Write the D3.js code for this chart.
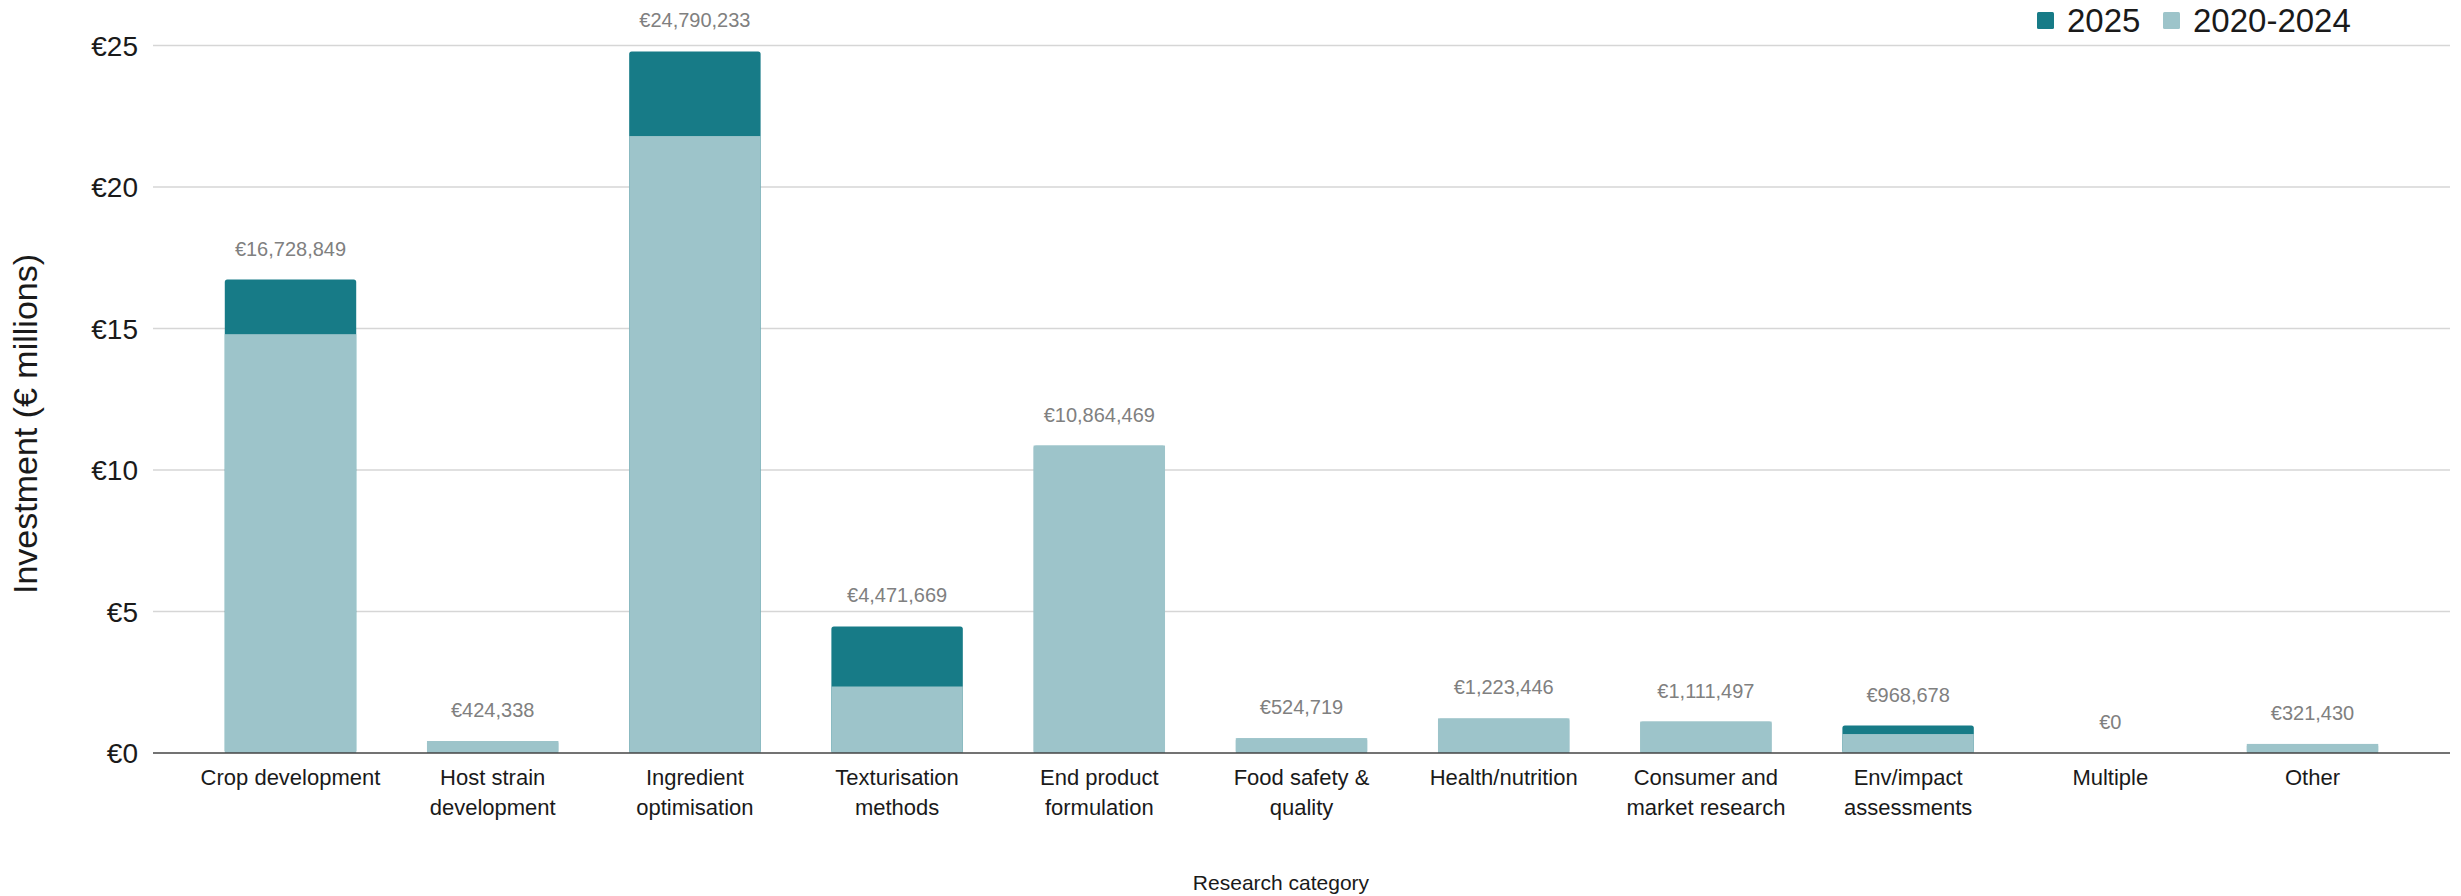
<!DOCTYPE html>
<html><head><meta charset="utf-8">
<script src="https://cdn.jsdelivr.net/npm/d3@7"></script>
<style>body{margin:0;background:#fff}svg{display:block}text{font-family:"Liberation Sans",Arial,sans-serif}</style>
</head><body><svg id="c" width="2461" height="896"></svg>
<script>
const categories = ["Crop development","Host strain development","Ingredient optimisation","Texturisation methods","End product formulation","Food safety & quality","Health/nutrition","Consumer and market research","Env/impact assessments","Multiple","Other"];
const categoryLines = [["Crop development"],["Host strain","development"],["Ingredient","optimisation"],["Texturisation","methods"],["End product","formulation"],["Food safety &","quality"],["Health/nutrition"],["Consumer and","market research"],["Env/impact","assessments"],["Multiple"],["Other"]];
const totals = [16728849,424338,24790233,4471669,10864469,524719,1223446,1111497,968678,0,321430];
const base20202024 = [14.80,0.424,21.80,2.35,10.864,0.525,1.223,1.111,0.67,0,0.321];
const series = ["2025","2020-2024"];
const yTicks = [0,5,10,15,20,25];
const colors = {"2025":"#177b87","2020-2024":"#9dc4ca"};

const svg = d3.select("#c");
const L=153,R=2450,T=45.5,B=753;
const x = d3.scaleBand().domain(categories).range([L,R]).paddingInner(0.35).paddingOuter(0.355);
const y = d3.scaleLinear().domain([0,25]).range([B,T]);

// gridlines
svg.append("g").selectAll("line").data(yTicks.filter(d=>d>0)).join("line")
  .attr("x1",L).attr("x2",R).attr("y1",d=>y(d)).attr("y2",d=>y(d))
  .attr("stroke","#d6d6d6").attr("stroke-width",1.5);

// y ticks labels
svg.append("g").selectAll("text").data(yTicks).join("text")
  .attr("x",138).attr("y",d=>y(d)).attr("dy","0.36em").attr("text-anchor","end")
  .attr("font-size",28).attr("fill","#1a1a1a").text(d=>"€"+d);

// bars
const data = categories.map((c,i)=>({c, base:base20202024[i], total:totals[i]/1e6, label:totals[i]}));
const g = svg.append("g");
data.forEach(d=>{
  if(d.total>0){
    g.append("rect").attr("x",x(d.c)).attr("width",x.bandwidth())
      .attr("y",y(d.total)).attr("height",Math.max(0,y(0)-y(d.total))).attr("rx",2.5)
      .attr("fill", d.total-d.base>0.001 ? colors["2025"] : colors["2020-2024"]);
    g.append("rect").attr("x",x(d.c)).attr("width",x.bandwidth())
      .attr("y",y(d.base)).attr("height",y(0)-y(d.base))
      .attr("fill",colors["2020-2024"]);
  }
  g.append("text").attr("x",x(d.c)+x.bandwidth()/2).attr("y",y(d.total)-24)
    .attr("text-anchor","middle").attr("font-size",20).attr("fill","#808080")
    .text("€"+d3.format(",")(d.label));
});

// axis line
svg.append("line").attr("x1",L).attr("x2",R).attr("y1",B).attr("y2",B).attr("stroke","#444").attr("stroke-width",1.5);

// x tick labels
const xl = svg.append("g");
categories.forEach((c,i)=>{
  const t = xl.append("text").attr("x",x(c)+x.bandwidth()/2).attr("y",785).attr("text-anchor","middle")
    .attr("font-size",22).attr("fill","#1a1a1a");
  categoryLines[i].forEach((ln,j)=>t.append("tspan").attr("x",x(c)+x.bandwidth()/2).attr("dy",j?30:0).text(ln));
});

// axis titles
svg.append("text").attr("transform","translate(37,424) rotate(-90)").attr("text-anchor","middle")
  .attr("font-size",34).attr("fill","#1a1a1a").text("Investment (€ millions)");
svg.append("text").attr("x",1281).attr("y",890).attr("text-anchor","middle")
  .attr("font-size",21).attr("fill","#1a1a1a").text("Research category");

// legend
const lg = svg.append("g");
const items=[{s:"2025",x:2037},{s:"2020-2024",x:2163}];
items.forEach(it=>{
  lg.append("rect").attr("x",it.x).attr("y",12).attr("width",17).attr("height",17).attr("rx",1.5).attr("fill",colors[it.s]);
  lg.append("text").attr("x",it.x+30).attr("y",32).attr("font-size",33).attr("fill","#1a1a1a").text(it.s);
});
</script></body></html>
